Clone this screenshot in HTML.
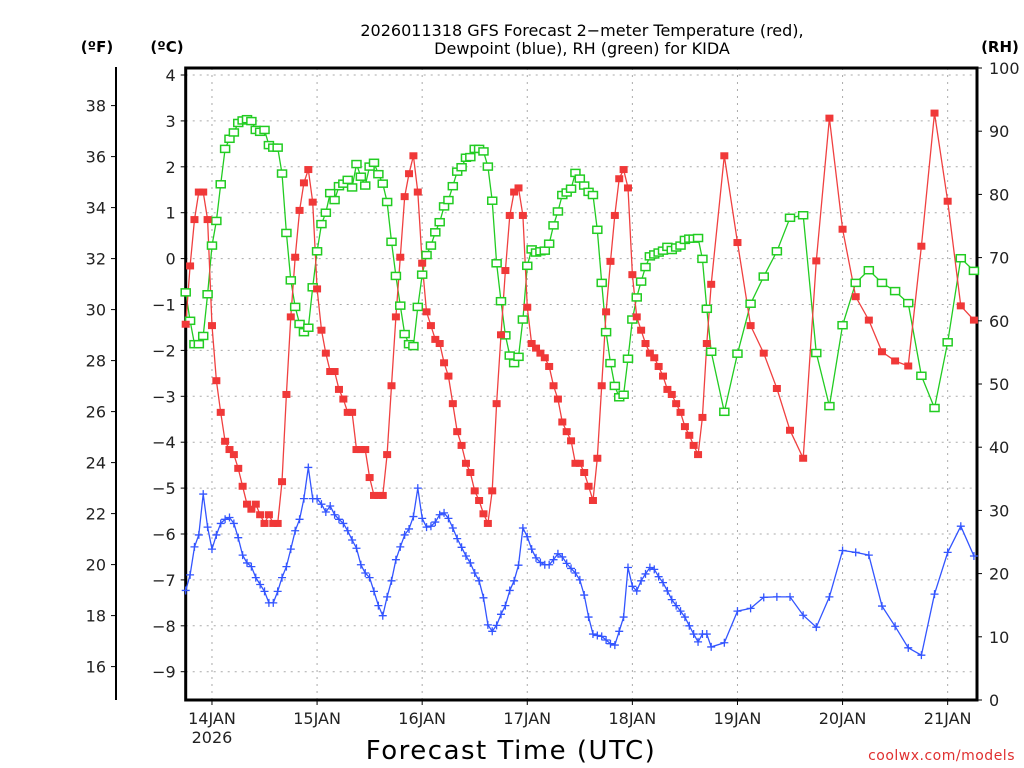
<!DOCTYPE html>
<html><head><meta charset="utf-8"><style>
body{margin:0;background:#fff;width:1024px;height:768px;overflow:hidden}
svg{display:block;font-family:"DejaVu Sans","Liberation Sans",sans-serif}
</style></head><body>
<svg id="chart" width="1024" height="768" viewBox="0 0 1024 768">
<text x="582" y="36" text-anchor="middle" font-size="16">2026011318 GFS Forecast 2−meter Temperature (red),</text>
<text x="582" y="54" text-anchor="middle" font-size="16">Dewpoint (blue), RH (green) for KIDA</text>
<text x="97" y="52" text-anchor="middle" font-size="15" font-weight="bold">(ºF)</text>
<text x="167" y="52" text-anchor="middle" font-size="15" font-weight="bold">(ºC)</text>
<text x="1000" y="52" text-anchor="middle" font-size="15" font-weight="bold">(RH)</text>
<text x="511" y="759" text-anchor="middle" font-size="26" letter-spacing="1.5">Forecast Time (UTC)</text>
<text x="1015" y="760" text-anchor="end" font-size="14" fill="#e03030" letter-spacing="0.5">coolwx.com/models</text>
<g id="grid"></g><g id="axes"></g><g id="series"></g>
</svg>
<script>
const hours=[0,1,2,3,4,5,6,7,8,9,10,11,12,13,14,15,16,17,18,19,20,21,22,23,24,25,26,27,28,29,30,31,32,33,34,35,36,37,38,39,40,41,42,43,44,45,46,47,48,49,50,51,52,53,54,55,56,57,58,59,60,61,62,63,64,65,66,67,68,69,70,71,72,73,74,75,76,77,78,79,80,81,82,83,84,85,86,87,88,89,90,91,92,93,94,95,96,97,98,99,100,101,102,103,104,105,106,107,108,109,110,111,112,113,114,115,116,117,118,119,120,123,126,129,132,135,138,141,144,147,150,153,156,159,162,165,168,171,174,177,180];
const tempC=[-1.43,-0.16,0.85,1.45,1.45,0.85,-1.46,-2.66,-3.35,-3.98,-4.16,-4.27,-4.57,-4.96,-5.35,-5.46,-5.35,-5.58,-5.77,-5.58,-5.77,-5.77,-4.86,-2.96,-1.27,0.03,1.05,1.65,1.94,1.23,-0.66,-1.56,-2.06,-2.46,-2.46,-2.85,-3.06,-3.35,-3.35,-4.16,-4.16,-4.16,-4.77,-5.16,-5.16,-5.16,-4.27,-2.77,-1.27,0.03,1.35,1.85,2.24,1.45,-0.1,-1.16,-1.46,-1.76,-1.85,-2.27,-2.56,-3.16,-3.77,-4.07,-4.46,-4.66,-5.06,-5.27,-5.56,-5.77,-5.06,-3.16,-1.66,-0.26,0.94,1.45,1.54,0.94,-1.06,-1.85,-1.95,-2.06,-2.16,-2.35,-2.77,-3.06,-3.56,-3.77,-3.97,-4.46,-4.46,-4.66,-4.96,-5.27,-4.35,-2.77,-1.16,-0.06,0.94,1.74,1.94,1.54,-0.35,-1.27,-1.56,-1.85,-2.06,-2.16,-2.35,-2.56,-2.85,-2.96,-3.16,-3.35,-3.66,-3.85,-4.07,-4.27,-3.46,-1.85,-0.56,2.24,0.35,-1.46,-2.06,-2.83,-3.74,-4.35,-0.05,3.06,0.64,-0.83,-1.34,-2.03,-2.23,-2.34,0.27,3.17,1.25,-1.03,-1.34];
const dewC=[-7.23,-6.89,-6.28,-6.02,-5.13,-5.85,-6.33,-6.02,-5.77,-5.68,-5.64,-5.77,-6.08,-6.46,-6.63,-6.71,-6.95,-7.10,-7.25,-7.50,-7.50,-7.25,-6.95,-6.71,-6.33,-5.93,-5.68,-5.23,-4.55,-5.23,-5.23,-5.35,-5.52,-5.39,-5.58,-5.68,-5.77,-5.93,-6.13,-6.31,-6.67,-6.85,-6.95,-7.25,-7.56,-7.78,-7.37,-7.02,-6.56,-6.28,-6.02,-5.89,-5.62,-5.00,-5.66,-5.85,-5.83,-5.74,-5.58,-5.54,-5.66,-5.87,-6.10,-6.29,-6.48,-6.63,-6.85,-7.02,-7.39,-7.98,-8.12,-7.99,-7.75,-7.56,-7.23,-7.02,-6.68,-5.87,-6.06,-6.33,-6.52,-6.62,-6.67,-6.67,-6.56,-6.43,-6.50,-6.64,-6.75,-6.85,-7.00,-7.33,-7.81,-8.18,-8.21,-8.23,-8.31,-8.39,-8.42,-8.12,-7.81,-6.73,-7.14,-7.24,-7.02,-6.87,-6.73,-6.77,-6.93,-7.06,-7.24,-7.43,-7.56,-7.68,-7.81,-8.00,-8.18,-8.35,-8.18,-8.18,-8.46,-8.37,-7.68,-7.62,-7.38,-7.37,-7.37,-7.77,-8.03,-7.37,-6.36,-6.40,-6.46,-7.57,-8.01,-8.48,-8.64,-7.31,-6.40,-5.83,-6.48];
const rhPct=[64.5,60.0,56.3,56.3,57.6,64.2,71.9,75.8,81.6,87.2,88.8,89.8,91.3,91.7,91.9,91.6,90.2,89.9,90.2,87.8,87.4,87.4,83.3,73.9,66.4,62.2,59.5,58.2,58.9,65.3,71.0,75.3,77.1,80.2,79.1,81.3,81.7,82.3,81.1,84.8,82.8,81.4,84.4,85.0,83.2,81.7,78.8,72.5,67.1,62.4,57.9,56.3,56.0,62.2,67.3,70.4,71.9,74.0,75.6,78.1,79.1,81.3,83.6,84.3,85.8,85.9,87.2,87.2,86.8,84.4,79.0,69.1,63.1,57.7,54.5,53.3,54.3,60.2,68.7,71.3,70.8,71.0,71.1,72.2,75.1,77.3,79.9,80.3,80.9,83.4,82.5,81.4,80.4,79.9,74.4,66.0,58.2,53.3,49.7,47.9,48.3,54.0,60.2,63.7,66.2,68.5,70.2,70.5,70.8,71.1,71.7,71.2,71.6,71.9,72.8,73.0,73.0,73.1,69.8,61.9,55.1,45.6,54.8,62.7,67.0,71.0,76.3,76.7,54.9,46.5,59.3,66.0,68.0,66.0,64.7,62.8,51.3,46.2,56.6,69.9,67.9];
const cTicks=[4,3,2,1,0,-1,-2,-3,-4,-5,-6,-7,-8,-9];
const fTicks=[38,36,34,32,30,28,26,24,22,20,18,16];
const rhTicks=[100,90,80,70,60,50,40,30,20,10,0];
const dayLabels=["14JAN","15JAN","16JAN","17JAN","18JAN","19JAN","20JAN","21JAN"];
const dayHours=[6,30,54,78,102,126,150,174];

const NS="http://www.w3.org/2000/svg";
const L=185.7,R=977,T=68,B=700;
const xS=h=>L+h*(R-L)/180.7;
const yC=c=>258.6-c*45.9;
const yF=f=>yC((f-32)/1.8);
const yRH=r=>B-r*(B-T)/100;
function mk(p,tag,at){const e=document.createElementNS(NS,tag);for(const k in at)e.setAttribute(k,at[k]);p.appendChild(e);return e;}
const grid=document.getElementById('grid'),axes=document.getElementById('axes'),ser=document.getElementById('series');
cTicks.forEach(c=>{
  const g=mk(grid,'line',{x1:L,x2:R,y1:yC(c),y2:yC(c),stroke:'#aaa','stroke-dasharray':'2,5'});
  
  
  mk(axes,'line',{x1:L-5,x2:L,y1:yC(c),y2:yC(c),stroke:'#000'});
  const t=mk(axes,'text',{x:L-10,y:yC(c)+6,'text-anchor':'end','font-size':'16',fill:'#222'});
  t.textContent=String(c).replace('-','−');
  
  
});
dayHours.forEach((h,i)=>{
  const g=mk(grid,'line',{x1:xS(h),x2:xS(h),y1:T,y2:B,stroke:'#aaa','stroke-dasharray':'2,5'});
  
  
  mk(axes,'line',{x1:xS(h),x2:xS(h),y1:B,y2:B+5,stroke:'#000'});
  const t=mk(axes,'text',{x:xS(h),y:B+24,'text-anchor':'middle','font-size':'16',fill:'#222'});
  t.textContent=dayLabels[i];
  
  
});
const yr=mk(axes,'text',{x:xS(6),y:B+43,'text-anchor':'middle','font-size':'16',fill:'#222'});
yr.textContent='2026';


fTicks.forEach(f=>{
  mk(axes,'line',{x1:111,x2:116,y1:yF(f),y2:yF(f),stroke:'#000'});
  const t=mk(axes,'text',{x:106,y:yF(f)+6,'text-anchor':'end','font-size':'16',fill:'#222'});
  t.textContent=f;
  
  
});
rhTicks.forEach(r=>{
  mk(axes,'line',{x1:R,x2:R+5,y1:yRH(r),y2:yRH(r),stroke:'#000'});
  const t=mk(axes,'text',{x:R+12,y:yRH(r)+6,'text-anchor':'start','font-size':'16',fill:'#222'});
  t.textContent=r;
  
  
});
const fl=mk(axes,'line',{x1:116,x2:116,y1:67,y2:700,stroke:'#000','stroke-width':2});


const fr=mk(axes,'path',{d:`M${L},${B} L${L},${T} L${R},${T} L${R},${B} Z`,fill:'none',stroke:'#000','stroke-width':3});



function line(vals,fy,color,name){
  const pts=vals.map((v,i)=>xS(hours[i]).toFixed(1)+','+fy(v).toFixed(1)).join(' ');
  const p=mk(ser,'polyline',{points:pts,fill:'none',stroke:color,'stroke-width':1.3});
  
  
}
line(rhPct,yRH,'#22cc22','rh-line');
line(tempC,yC,'#f04040','temperature-line');
line(dewC,yC,'#3355ff','dewpoint-line');
rhPct.forEach((v,i)=>{
  const m=mk(ser,'rect',{x:xS(hours[i])-4.5,y:yRH(v)-3.5,width:9,height:7,fill:'#fff',stroke:'#22cc22','stroke-width':1.5});
  
  
});
tempC.forEach((v,i)=>{
  const m=mk(ser,'rect',{x:xS(hours[i])-4,y:yC(v)-3.5,width:8,height:7,fill:'#f03838'});
  
  
});
dewC.forEach((v,i)=>{
  const x=xS(hours[i]),y=yC(v);
  const m=mk(ser,'path',{d:`M${x-4},${y} H${x+4} M${x},${y-4} V${y+4}`,stroke:'#3355ff','stroke-width':1.3,fill:'none'});
  
  
});
</script>
</body></html>
